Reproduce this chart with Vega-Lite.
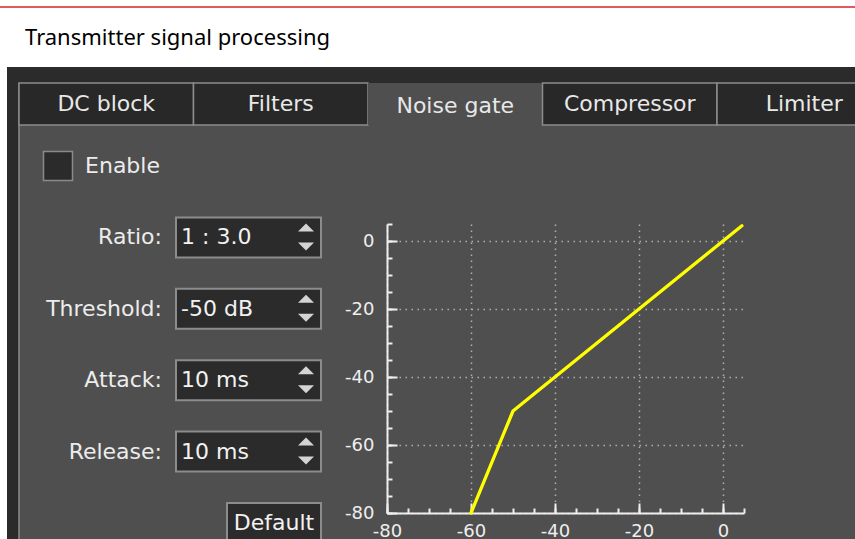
{
  "$schema": "https://vega.github.io/schema/vega-lite/v6.json",
  "background": "#4f4f4f",
  "padding": 0,
  "config": {"view": {"stroke": null}, "concat": {"spacing": 0}},
  "datasets": {
    "title": [{"text": "Transmitter signal processing"}],
    "tabs": [
      {"tab": "DC block", "selected": false},
      {"tab": "Filters", "selected": false},
      {"tab": "Noise gate", "selected": true},
      {"tab": "Compressor", "selected": false},
      {"tab": "Limiter", "selected": false}
    ],
    "controls": [
      {"row": "Enable", "kind": "check", "label": "Enable", "value": ""},
      {"row": "Ratio", "kind": "spin", "label": "Ratio:", "value": "1 : 3.0"},
      {"row": "Threshold", "kind": "spin", "label": "Threshold:", "value": "-50 dB"},
      {"row": "Attack", "kind": "spin", "label": "Attack:", "value": "10 ms"},
      {"row": "Release", "kind": "spin", "label": "Release:", "value": "10 ms"},
      {"row": "Default", "kind": "button", "label": "", "value": "Default"}
    ],
    "curve": [
      {"input": -60, "output": -80},
      {"input": -50, "output": -50},
      {"input": 4.5, "output": 4.5}
    ]
  },
  "spacing": 0,
  "bounds": "flush",
  "vconcat": [
    {"width": 855, "height": 6, "view": {"fill": "#ffffff", "stroke": null}, "data": {"values": []}, "mark": "rect", "encoding": {}},
    {"width": 855, "height": 2, "view": {"fill": "#e25a5a", "stroke": null}, "data": {"values": []}, "mark": "rect", "encoding": {}},
    {
      "width": 855, "height": 59,
      "view": {"fill": "#ffffff", "stroke": null},
      "data": {"name": "title"},
      "mark": {"type": "text", "font": "Noto Sans", "fontSize": 22, "color": "#000000", "baseline": "middle"},
      "encoding": {
        "x": {"field": "text", "type": "nominal", "axis": null, "scale": {"type": "band", "paddingInner": 0, "paddingOuter": 0.9016, "align": 0.04545}},
        "text": {"field": "text", "type": "nominal"}
      }
    },
    {
      "spacing": 0,
      "bounds": "flush",
      "hconcat": [
        {"width": 7, "height": 472, "view": {"fill": "#ffffff", "stroke": null}, "data": {"values": []}, "mark": "rect", "encoding": {}},
        {
          "spacing": 0,
          "bounds": "flush",
          "vconcat": [
            {"width": 848, "height": 16, "view": {"fill": "#2b2b2b", "stroke": null}, "data": {"values": []}, "mark": "rect", "encoding": {}},
            {
              "spacing": 0,
              "bounds": "flush",
              "hconcat": [
                {
                  "width": 12, "height": 456,
                  "view": {"fill": "#2b2b2b", "stroke": null},
                  "data": {"values": [{}]},
                  "mark": {"type": "rule", "color": "#8c8c8c", "strokeWidth": 1.5},
                  "encoding": {"x": {"value": "width"}}
                },
                {
                  "spacing": 0,
                  "bounds": "flush",
                  "vconcat": [
                    {
                      "width": 872.5, "height": 42,
                      "data": {"name": "tabs"},
                      "layer": [
                        {
                          "mark": {"type": "rect", "stroke": "#8c8c8c", "strokeWidth": 1.5},
                          "encoding": {
                            "x": {"field": "tab", "type": "nominal", "sort": null, "axis": null, "scale": {"type": "band", "paddingInner": 0, "paddingOuter": 0}},
                            "fill": {"condition": {"test": "datum.selected", "value": "#4f4f4f"}, "value": "#282828"},
                            "strokeOpacity": {"condition": {"test": "datum.selected", "value": 0}, "value": 1}
                          }
                        },
                        {
                          "transform": [{"filter": "!datum.selected"}],
                          "mark": {"type": "text", "font": "DejaVu Sans", "fontSize": 22, "color": "#e8e8e8", "baseline": "middle"},
                          "encoding": {
                            "x": {"field": "tab", "type": "nominal", "sort": null, "axis": null},
                            "text": {"field": "tab", "type": "nominal"}
                          }
                        },
                        {
                          "transform": [{"filter": "datum.selected"}],
                          "mark": {"type": "text", "font": "DejaVu Sans", "fontSize": 22, "color": "#e8e8e8", "baseline": "middle", "dy": 2},
                          "encoding": {
                            "x": {"field": "tab", "type": "nominal", "sort": null, "axis": null},
                            "text": {"field": "tab", "type": "nominal"}
                          }
                        }
                      ]
                    },
                    {
                      "spacing": 0,
                      "bounds": "flush",
                      "hconcat": [
                        {"width": 24, "height": 439, "data": {"values": []}, "mark": "rect", "encoding": {}},
                        {
                          "width": 30, "height": 439,
                          "data": {"name": "controls"},
                          "transform": [{"filter": "datum.kind === 'check'"}],
                          "mark": {"type": "point", "shape": "square", "filled": true, "size": 841, "fill": "#2b2b2b", "stroke": "#8a8a8a", "strokeWidth": 1.5, "opacity": 1},
                          "encoding": {
                            "y": {"field": "row", "type": "nominal", "axis": null, "scale": {"type": "band", "domain": ["Enable", "Ratio", "Threshold", "Attack", "Release", "Default"], "paddingInner": 0.44, "paddingOuter": 0.294}}
                          }
                        },
                        {"width": 10, "height": 439, "data": {"values": []}, "mark": "rect", "encoding": {}},
                        {
                          "width": 79, "height": 439,
                          "data": {"name": "controls"},
                          "layer": [
                            {
                              "transform": [{"filter": "datum.kind === 'check'"}],
                              "mark": {"type": "text", "font": "DejaVu Sans", "fontSize": 22, "color": "#ececec", "baseline": "middle"},
                              "encoding": {
                                "y": {"field": "row", "type": "nominal", "axis": null, "scale": {"type": "band", "domain": ["Enable", "Ratio", "Threshold", "Attack", "Release", "Default"], "paddingInner": 0.44, "paddingOuter": 0.294}},
                                "text": {"field": "label", "type": "nominal"}
                              }
                            },
                            {
                              "transform": [{"filter": "datum.kind === 'spin'"}],
                              "mark": {"type": "text", "font": "DejaVu Sans", "fontSize": 22, "color": "#ececec", "baseline": "middle", "align": "right"},
                              "encoding": {
                                "x": {"value": "width"},
                                "y": {"field": "row", "type": "nominal", "axis": null},
                                "text": {"field": "label", "type": "nominal"}
                              }
                            }
                          ]
                        },
                        {"width": 14, "height": 439, "data": {"values": []}, "mark": "rect", "encoding": {}},
                        {
                          "width": 145, "height": 439,
                          "data": {"name": "controls"},
                          "layer": [
                            {
                              "transform": [{"filter": "datum.kind === 'spin'"}],
                              "mark": {"type": "rect", "fill": "#2b2b2b", "stroke": "#8c8c8c", "strokeWidth": 2},
                              "encoding": {
                                "y": {"field": "row", "type": "nominal", "axis": null, "scale": {"type": "band", "domain": ["Enable", "Ratio", "Threshold", "Attack", "Release", "Default"], "paddingInner": 0.44, "paddingOuter": 0.294}}
                              }
                            },
                            {
                              "transform": [{"filter": "datum.kind === 'spin'"}],
                              "mark": {"type": "text", "font": "DejaVu Sans", "fontSize": 22, "color": "#f2f2f2", "baseline": "middle", "align": "left", "dx": 5},
                              "encoding": {
                                "x": {"value": 0},
                                "y": {"field": "row", "type": "nominal", "axis": null},
                                "text": {"field": "value", "type": "nominal"}
                              }
                            },
                            {
                              "transform": [{"filter": "datum.kind === 'spin'"}],
                              "mark": {"type": "point", "filled": true, "shape": "M-2.875,-0.75L-0.875,-0.75L-1.875,-1.75Z", "size": 256, "color": "#d4d4d4", "opacity": 1},
                              "encoding": {
                                "x": {"value": "width"},
                                "y": {"field": "row", "type": "nominal", "axis": null}
                              }
                            },
                            {
                              "transform": [{"filter": "datum.kind === 'spin'"}],
                              "mark": {"type": "point", "filled": true, "shape": "M-2.875,0.625L-0.875,0.625L-1.875,1.625Z", "size": 256, "color": "#d4d4d4", "opacity": 1},
                              "encoding": {
                                "x": {"value": "width"},
                                "y": {"field": "row", "type": "nominal", "axis": null}
                              }
                            },
                            {
                              "transform": [{"filter": "datum.kind === 'button'"}],
                              "mark": {"type": "rect", "fill": "#2b2b2b", "stroke": "#8c8c8c", "strokeWidth": 2},
                              "encoding": {
                                "x": {"field": "value", "type": "nominal", "axis": null, "scale": {"type": "band", "paddingInner": 0, "paddingOuter": 0.2713, "align": 1}},
                                "y": {"field": "row", "type": "nominal", "axis": null}
                              }
                            },
                            {
                              "transform": [{"filter": "datum.kind === 'button'"}],
                              "mark": {"type": "text", "font": "DejaVu Sans", "fontSize": 22, "color": "#f2f2f2", "baseline": "middle"},
                              "encoding": {
                                "x": {"field": "value", "type": "nominal", "axis": null},
                                "y": {"field": "row", "type": "nominal", "axis": null},
                                "text": {"field": "value", "type": "nominal"}
                              }
                            }
                          ]
                        },
                        {"width": 66, "height": 439, "data": {"values": []}, "mark": "rect", "encoding": {}},
                        {
                          "spacing": 0,
                          "bounds": "flush",
                          "vconcat": [
                            {"width": 357, "height": 99, "data": {"values": []}, "mark": "rect", "encoding": {}},
                            {
                              "width": 357, "height": 289,
                              "data": {"name": "curve"},
                              "layer": [
                                {
                                  "mark": {"type": "line", "color": "#ffff00", "strokeWidth": 3.3, "strokeCap": "round", "strokeJoin": "round"},
                                  "encoding": {
                                    "x": {
                                      "field": "input", "type": "quantitative",
                                      "scale": {"domain": [-80, 5], "nice": false, "zero": false},
                                      "axis": {"orient": "bottom", "title": null, "values": [-80, -60, -40, -20, 0], "labelExpr": "'' + datum.value", "grid": true, "gridColor": "#b0b0b0", "gridDash": [1.5, 4.5], "gridWidth": 1.5, "domain": true, "domainColor": "#eeeeee", "domainWidth": 2, "ticks": true, "tickColor": "#eeeeee", "tickWidth": 2, "tickSize": -10, "labelColor": "#eeeeee", "labelFont": "DejaVu Sans", "labelFontSize": 18, "labelPadding": 19, "labelFlush": false, "labelOverlap": false, "labelBound": false}
                                    },
                                    "y": {
                                      "field": "output", "type": "quantitative",
                                      "scale": {"domain": [-80, 5], "nice": false, "zero": false},
                                      "axis": {"orient": "left", "title": null, "values": [-80, -60, -40, -20, 0], "labelExpr": "'' + datum.value", "grid": true, "gridColor": "#b0b0b0", "gridDash": [1.5, 4.5], "gridWidth": 1.5, "domain": true, "domainColor": "#eeeeee", "domainWidth": 2, "ticks": true, "tickColor": "#eeeeee", "tickWidth": 2, "tickSize": -10, "labelColor": "#eeeeee", "labelFont": "DejaVu Sans", "labelFontSize": 18, "labelPadding": 23, "labelFlush": false, "labelOverlap": false, "labelBound": false}
                                    }
                                  }
                                },
                                {
                                  "mark": {"type": "line", "strokeOpacity": 0},
                                  "encoding": {
                                    "x": {
                                      "field": "input", "type": "quantitative",
                                      "axis": {"orient": "bottom", "title": null, "values": [-80, -75, -70, -65, -60, -55, -50, -45, -40, -35, -30, -25, -20, -15, -10, -5, 0, 5], "grid": false, "labels": false, "domain": false, "ticks": true, "tickColor": "#eeeeee", "tickWidth": 2, "tickSize": -5}
                                    },
                                    "y": {
                                      "field": "output", "type": "quantitative",
                                      "axis": {"orient": "left", "title": null, "values": [-80, -75, -70, -65, -60, -55, -50, -45, -40, -35, -30, -25, -20, -15, -10, -5, 0, 5], "grid": false, "labels": false, "domain": false, "ticks": true, "tickColor": "#eeeeee", "tickWidth": 2, "tickSize": -5}
                                    }
                                  }
                                }
                              ],
                              "resolve": {"axis": {"x": "independent", "y": "independent"}}
                            }
                          ]
                        }
                      ]
                    }
                  ]
                }
              ]
            }
          ]
        }
      ]
    }
  ]
}
